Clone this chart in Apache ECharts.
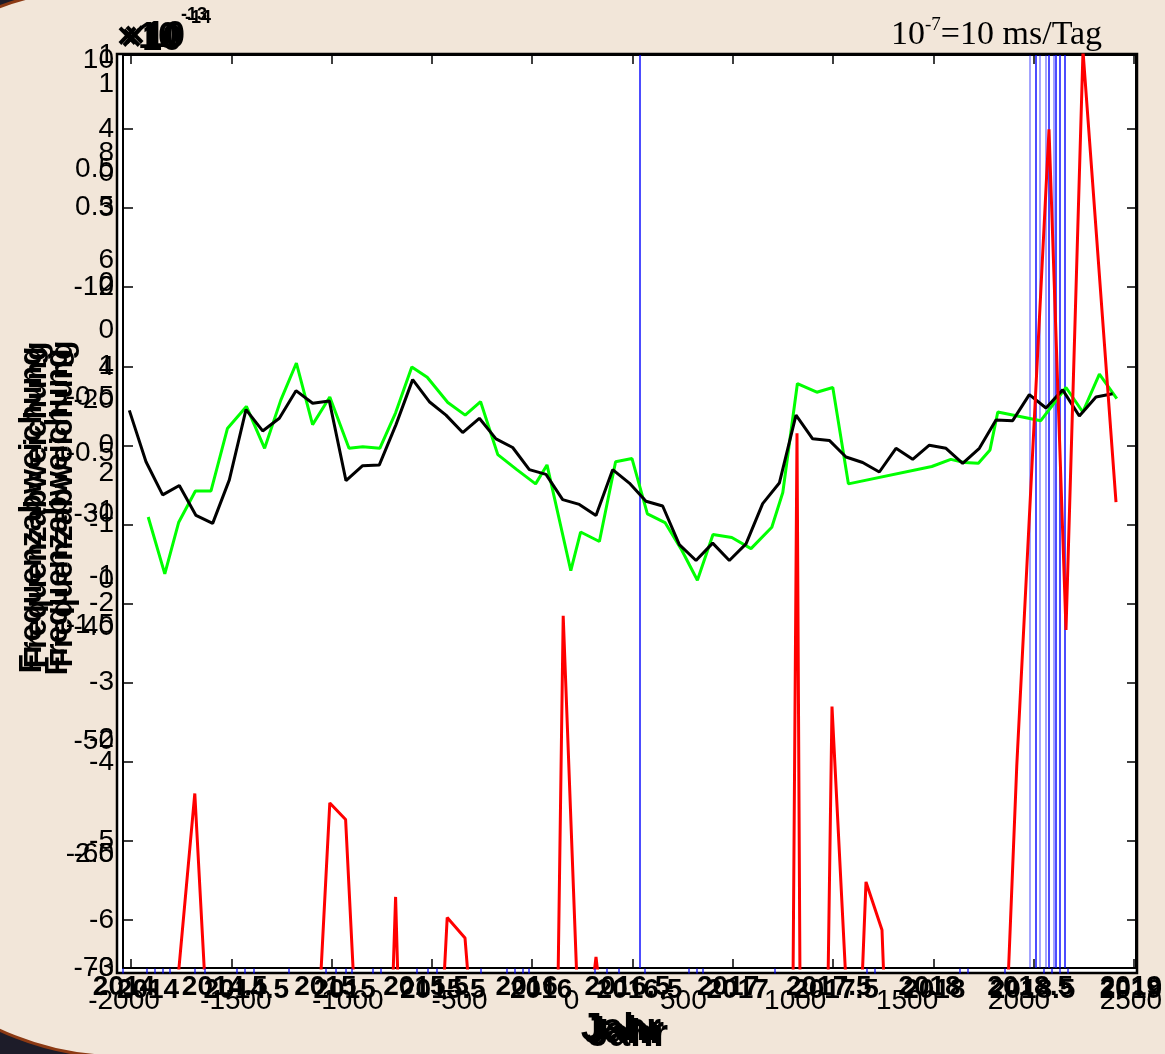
<!DOCTYPE html>
<html>
<head>
<meta charset="utf-8">
<script src="https://cdn.jsdelivr.net/npm/echarts@6/dist/echarts.min.js"></script>
<style>
html,body{margin:0;padding:0;background:#1d1c29;}
#wrap{position:relative;width:1165px;height:1054px;overflow:hidden;background:#1d1c29;}
#slide{position:absolute;left:-162px;top:-11px;width:1500px;height:1069px;box-sizing:border-box;background:#f2e6d9;border:3px solid #8c3a14;border-top-left-radius:250px;border-bottom-left-radius:280px;}
#main{position:absolute;left:0;top:0;width:1165px;height:1054px;}
</style>
</head>
<body>
<div id="wrap"><div id="slide"></div><div id="main"></div></div>
<script>
// monthly values (black), Jan 2014 .. Dec 2018
var months = ['2014-01','2014-02','2014-03','2014-04','2014-05','2014-06','2014-07','2014-08','2014-09','2014-10','2014-11','2014-12',
  '2015-01','2015-02','2015-03','2015-04','2015-05','2015-06','2015-07','2015-08','2015-09','2015-10','2015-11','2015-12',
  '2016-01','2016-02','2016-03','2016-04','2016-05','2016-06','2016-07','2016-08','2016-09','2016-10','2016-11','2016-12',
  '2017-01','2017-02','2017-03','2017-04','2017-05','2017-06','2017-07','2017-08','2017-09','2017-10','2017-11','2017-12',
  '2018-01','2018-02','2018-03','2018-04','2018-05','2018-06','2018-07','2018-08','2018-09','2018-10','2018-11','2018-12'];
var blackVals = [0.45,-0.20,-0.62,-0.50,-0.88,-0.98,-0.43,0.46,0.19,0.35,
  0.70,0.54,0.57,-0.44,-0.25,-0.24,0.27,0.84,0.56,0.39,
  0.17,0.35,0.09,-0.02,-0.30,-0.36,-0.68,-0.74,-0.88,-0.30,
  -0.47,-0.70,-0.76,-1.25,-1.45,-1.23,-1.45,-1.24,-0.73,-0.47,
  0.39,0.09,0.07,-0.14,-0.21,-0.33,-0.03,-0.17,0.01,-0.03,
  -0.22,-0.03,0.33,0.32,0.65,0.48,0.71,0.38,0.62,0.66];

// green series (decimal years)
var greenX = [2014.136,2014.219,2014.288,2014.372,2014.450,2014.532,2014.627,2014.718,2014.799,2014.877,
  2014.958,2015.044,2015.140,2015.209,2015.294,2015.373,2015.454,2015.531,2015.634,2015.721,
  2015.798,2015.884,2015.979,2016.073,2016.130,2016.249,2016.298,2016.392,2016.473,2016.555,
  2016.632,2016.720,2016.804,2016.882,2016.960,2017.054,2017.150,2017.254,2017.309,2017.382,
  2017.479,2017.559,2017.637,2018.054,2018.149,2018.217,2018.287,2018.345,2018.384,2018.599,
  2018.725,2018.809,2018.892,2018.979];
var greenY = [-0.90,-1.62,-0.97,-0.57,-0.57,0.22,0.50,-0.03,0.58,1.05,
  0.27,0.62,-0.03,-0.01,-0.03,0.42,1.00,0.87,0.55,0.39,
  0.56,-0.11,-0.30,-0.48,-0.24,-1.58,-1.09,-1.21,-0.20,-0.16,
  -0.86,-0.97,-1.32,-1.70,-1.12,-1.16,-1.30,-1.03,-0.59,0.79,
  0.68,0.74,-0.48,-0.26,-0.17,-0.21,-0.22,-0.05,0.43,0.32,
  0.74,0.43,0.91,0.60];

// red series (decimal years), -6.8 = off scale low
var redX = [2014.04,2014.283,2014.369,2014.42,2014.997,2015.044,2015.123,2015.164,2015.359,2015.373,2015.385,
  2015.614,2015.631,2015.72,2015.738,2016.185,2016.211,2016.28,2016.36,2016.375,2016.39,
  2017.36,2017.38,2017.395,2017.535,2017.555,2017.625,2017.705,2017.725,2017.805,2017.815,
  2018.435,2018.479,2018.64,2018.725,2018.81,2018.975];
var redY = [-6.8,-6.8,-4.40,-6.8,-6.8,-4.52,-4.73,-6.8,-6.8,-5.71,-6.8,
  -6.8,-5.97,-6.23,-6.8,-6.8,-2.15,-6.8,-6.8,-6.47,-6.8,
  -6.8,0.16,-6.8,-6.8,-3.30,-6.8,-6.8,-5.52,-6.13,-6.8,
  -6.8,-4.04,4.01,-2.33,5.0,-0.71];

// vertical markers
var blueLines = [2016.595,2018.575,2018.64,2018.675,2018.695,2018.72];
var blueLinesFaint = [2018.545,2018.595,2018.625,2018.665];
var rugX = [2014.01,2014.13,2014.17,2014.21,2014.245,2014.37,2014.42,2014.58,2014.62,2014.665,2014.84,
  2015.025,2015.075,2015.125,2015.155,2015.26,2015.30,2015.48,2015.535,2015.58,2015.80,
  2015.93,2015.97,2016.01,2016.04,2016.37,2016.43,2016.49,2016.62,2016.84,2016.88,2016.91,
  2017.27,2017.73,2017.77,2018.195,2018.235,2018.42,2018.615,2018.655,2018.695,2018.735];

var Y_MIN = -6.61, Y_MAX = 4.95;
var FONT = '"Liberation Sans", Arial, sans-serif';
function monthToYear(s) {
  var p = s.split('-');
  return +p[0] + (+p[1] - 0.5) / 12;
}
var plain = function (v) { return String(v); };

var chart = echarts.init(document.getElementById('main'));

function hiddenX(g) { return {type: 'value', gridIndex: g, show: false, min: 0, max: 1}; }
function hiddenY(g) { return {type: 'value', gridIndex: g, show: false, min: 0, max: 1}; }
function labelY(g, min, max, step, extra) {
  var a = {
    type: 'value', gridIndex: g, min: min, max: max, interval: step, position: 'left',
    axisLine: {show: false}, axisTick: {show: false}, splitLine: {show: false},
    axisLabel: {color: '#000', fontSize: 28, fontFamily: FONT, margin: 9, formatter: plain}
  };
  return Object.assign(a, extra || {});
}
function labelX(g, min, max, step, margin, weight) {
  return {
    type: 'value', gridIndex: g, min: min, max: max, interval: step, position: 'bottom',
    axisLine: {show: false}, axisTick: {show: false}, splitLine: {show: false},
    axisLabel: {color: '#000', fontSize: 28, fontFamily: FONT, fontWeight: weight, margin: margin, formatter: plain}
  };
}
function tickAxis(g, pos) {
  return {
    type: 'value', gridIndex: g, min: 0, max: 10, interval: 1, position: pos,
    axisLine: {show: false}, splitLine: {show: false}, axisLabel: {show: false},
    axisTick: {inside: true, length: 9, lineStyle: {color: '#000', width: 1.5}}
  };
}
// one full-height blue line per marker year
function vLineSeries(list, width, alpha) {
  return list.map(function (x) {
    return {
      type: 'line', xAxisIndex: 1, yAxisIndex: 1, symbol: 'none', silent: true, z: 2,
      lineStyle: {color: '#0000ff', width: width, opacity: alpha},
      data: [[x, Y_MIN], [x, Y_MAX]]
    };
  });
}

var series = [].concat(
  vLineSeries(blueLinesFaint, 1.2, 0.6),
  vLineSeries(blueLines, 1.4, 1),
  [
    {
      type: 'line', xAxisIndex: 1, yAxisIndex: 1, symbol: 'none', z: 3,
      lineStyle: {color: '#00ff00', width: 3},
      data: greenX.map(function (x, i) { return [x, greenY[i]]; })
    },
    {
      type: 'line', xAxisIndex: 1, yAxisIndex: 1, symbol: 'none', z: 4,
      lineStyle: {color: '#000', width: 3},
      data: months.map(function (m, i) { return [monthToYear(m), blackVals[i]]; })
    },
    {
      type: 'line', xAxisIndex: 1, yAxisIndex: 1, symbol: 'none', z: 5, clip: true,
      lineStyle: {color: '#ff0000', width: 3},
      data: redX.map(function (x, i) { return [x, redY[i]]; })
    },
    {
      type: 'scatter', xAxisIndex: 1, yAxisIndex: 1, clip: false, silent: true, z: 6,
      symbol: 'rect', symbolSize: [1.5, 5], symbolOffset: [0, 3],
      itemStyle: {color: '#0000ff'},
      data: rugX.map(function (x) { return [x, Y_MIN]; })
    }
  ]
);

var option = {
  animation: false,
  backgroundColor: 'transparent',
  grid: [
    {left: 117, right: 28, top: 54, bottom: 81, show: true, backgroundColor: '#fff', borderColor: '#000', borderWidth: 2.5},
    {left: 123, right: 29, top: 55, bottom: 86, show: true, borderColor: '#000', borderWidth: 2},
    {left: 131, right: 31, top: 55, bottom: 86},
    {left: 123, right: 29, top: 129, bottom: 134},
    {left: 123, right: 29, top: 60, bottom: 86},
    {left: 123, right: 29, top: 47, bottom: 474},
    {left: 123, right: 29, top: 84, bottom: 478},
    {left: 148, right: 33, top: 55, bottom: 86},
    {left: 124, right: 29, top: 55, bottom: 86}
  ],
  xAxis: [
    hiddenX(0),
    {type: 'value', gridIndex: 1, show: false, min: 2014.01, max: 2019.075},
    tickAxis(2, 'bottom'),
    tickAxis(2, 'top'),
    hiddenX(3), hiddenX(4), hiddenX(5), hiddenX(6),
    labelX(7, 2014, 2019, 0.5, 8, 'bold'),
    labelX(8, 2014, 2019, 0.5, 5, 'bold'),
    labelX(8, -2000, 2500, 500, 19, 'normal')
  ],
  yAxis: [
    hiddenY(0),
    {type: 'value', gridIndex: 1, show: false, min: Y_MIN, max: Y_MAX},
    labelY(1, -3, 1, 0.5),
    hiddenY(2),
    {
      type: 'value', gridIndex: 3, min: -6, max: 4, interval: 1, position: 'left',
      axisLine: {show: false}, splitLine: {show: false},
      axisTick: {inside: true, length: 10, lineStyle: {color: '#000', width: 1.5}},
      axisLabel: {color: '#000', fontSize: 28, fontFamily: FONT, margin: 9, formatter: plain}
    },
    tickAxis(3, 'right'),
    labelY(4, -70, 10, 10),
    labelY(5, 0, 10, 2, {axisLabel: {color: '#000', fontSize: 28, fontFamily: FONT, margin: 9, formatter: plain, showMaxLabel: false}}),
    labelY(6, -1, 1, 0.5),
    hiddenY(7), hiddenY(8)
  ],
  series: series,
  graphic: [
    {type: 'text', x: 117, y: 20, style: {text: '×10', font: 'bold 36px ' + FONT, fill: '#000'}},
    {type: 'text', x: 121, y: 22, style: {text: '×10', font: 'bold 36px ' + FONT, fill: '#000'}},
    {type: 'text', x: 124, y: 19, style: {text: '×10', font: 'bold 36px ' + FONT, fill: '#000'}},
    {type: 'text', x: 181, y: 6, style: {text: '-13', font: 'bold 18px ' + FONT, fill: '#000'}},
    {type: 'text', x: 185, y: 9, style: {text: '-14', font: 'bold 18px ' + FONT, fill: '#000'}},
    {
      type: 'text', x: 891, y: 16,
      style: {
        text: '{n|10}{s|-7}{n|=10 ms/Tag}', fill: '#000',
        rich: {
          n: {fontSize: 34, fontFamily: '"Liberation Serif", serif', lineHeight: 38},
          s: {fontSize: 19, fontFamily: '"Liberation Serif", serif', verticalAlign: 'top', lineHeight: 38}
        }
      }
    },
    {type: 'text', x: 32, y: 510, rotation: Math.PI / 2, style: {text: 'Frequenzabweichung', font: 'bold 32px ' + FONT, fill: '#000', align: 'center', verticalAlign: 'middle'}},
    {type: 'text', x: 37, y: 505, rotation: Math.PI / 2, style: {text: 'Frequenzabweichung', font: 'bold 32px ' + FONT, fill: '#000', align: 'center', verticalAlign: 'middle'}},
    {type: 'text', x: 58, y: 512, rotation: Math.PI / 2, style: {text: 'Frequenzabweichung', font: 'bold 32px ' + FONT, fill: '#000', align: 'center', verticalAlign: 'middle'}},
    {type: 'text', x: 63, y: 504, rotation: Math.PI / 2, style: {text: 'Frequenzabweichung', font: 'bold 32px ' + FONT, fill: '#000', align: 'center', verticalAlign: 'middle'}},
    {type: 'text', x: 624, y: 1033, style: {text: 'Jahr', font: 'bold 38px ' + FONT, fill: '#000', align: 'center', verticalAlign: 'middle'}},
    {type: 'text', x: 628, y: 1036, style: {text: 'Jahr', font: 'bold 38px ' + FONT, fill: '#000', align: 'center', verticalAlign: 'middle'}},
    {type: 'text', x: 621, y: 1030, style: {text: 'Jahr', font: 'bold 38px ' + FONT, fill: '#000', align: 'center', verticalAlign: 'middle'}}
  ]
};

chart.setOption(option);
</script>
</body>
</html>
